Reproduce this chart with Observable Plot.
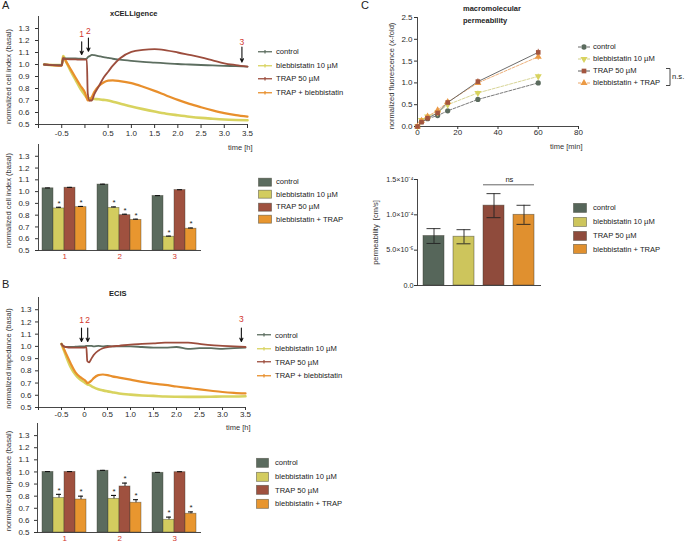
<!DOCTYPE html>
<html><head><meta charset="utf-8">
<script src="https://cdn.jsdelivr.net/npm/d3@7"></script>
<script src="https://cdn.jsdelivr.net/npm/@observablehq/plot@0.6"></script>
<style>
body{margin:0;background:#fff;}
#fig{position:relative;width:685px;height:544px;overflow:hidden;background:#fff;font-family:"Liberation Sans",Arial,Helvetica,sans-serif;}
#fig svg{overflow:visible;}
</style></head><body><div id="fig"></div>
<script>
// ---------------- data ----------------
const seriesLine = ["control", "blebbistatin 10 µM", "TRAP 50 µM", "TRAP + blebbistatin"];
const seriesBar = ["control", "blebbistatin 10 µM", "TRAP 50 µM", "blebbistatin + TRAP"];
const lineColors = ["#5d6e60", "#d8d35f", "#9c4d3d", "#e88f2c"];
const barColors = ["#5b6b5e", "#d3cc5f", "#9f513f", "#e8962f"];
const groups = ["1", "2", "3"];
const redLabel = "#d2362e";

// A top (xCELLigence)
const timeA = [-0.88,-0.7,-0.5,-0.47,-0.4,-0.3,-0.2,-0.1,0,0.04,0.06,0.1,0.15,0.2,0.3,0.4,0.5,0.6,0.75,1.0,1.25,1.5,1.75,2.0,2.25,2.5,2.75,3.0,3.25,3.5];
const aControl = [1.0,0.995,0.995,1.05,1.05,1.05,1.05,1.048,1.047,1.05,1.06,1.07,1.08,1.078,1.07,1.062,1.055,1.048,1.04,1.03,1.022,1.016,1.01,1.004,1.0,0.996,0.992,0.989,0.986,0.983];
const aBlebb = [1.0,0.995,0.995,1.07,1.02,0.94,0.87,0.80,0.745,0.725,0.72,0.718,0.715,0.713,0.71,0.705,0.70,0.69,0.675,0.65,0.628,0.608,0.59,0.577,0.565,0.555,0.548,0.542,0.538,0.535];
const aTrap = [1.0,0.995,0.99,1.05,1.045,1.043,1.042,1.04,1.04,1.04,0.76,0.70,0.70,0.75,0.82,0.89,0.94,0.99,1.05,1.105,1.122,1.128,1.118,1.10,1.08,1.06,1.035,1.01,0.995,0.982];
const aTrapBlebb = [1.0,0.995,0.99,1.06,1.02,0.955,0.89,0.825,0.765,0.72,0.70,0.70,0.73,0.77,0.82,0.85,0.865,0.868,0.862,0.845,0.815,0.78,0.742,0.705,0.672,0.644,0.618,0.595,0.578,0.566];

// B top (ECIS)
const timeB = [-0.5,-0.45,-0.4,-0.3,-0.2,-0.1,0,0.04,0.06,0.1,0.15,0.2,0.3,0.4,0.5,0.6,0.75,1.0,1.25,1.5,1.75,2.0,2.25,2.5,2.75,3.0,3.25,3.5];
const bControl = [1.02,1.0,0.995,0.995,0.997,1.0,1.0,1.005,1.005,1.005,1.005,1.0,1.005,1.0,1.005,1.0,1.0,1.0,0.995,0.99,0.99,0.995,0.98,0.985,0.985,0.98,0.985,0.99];
const bBlebb = [1.02,0.97,0.92,0.83,0.77,0.73,0.705,0.695,0.69,0.685,0.675,0.665,0.65,0.64,0.632,0.625,0.615,0.605,0.598,0.595,0.59,0.588,0.587,0.587,0.588,0.59,0.59,0.592];
const bTrap = [1.02,1.0,0.995,0.99,0.99,0.99,0.99,0.995,0.88,0.87,0.90,0.93,0.965,0.985,0.995,1.0,1.005,1.015,1.02,1.025,1.03,1.03,1.03,1.02,1.01,1.005,1.0,0.995];
const bTrapBlebb = [1.02,0.98,0.94,0.86,0.79,0.75,0.725,0.71,0.70,0.705,0.72,0.74,0.765,0.77,0.765,0.755,0.745,0.728,0.71,0.695,0.685,0.672,0.66,0.648,0.637,0.627,0.62,0.615];

const lineTicksY = [0.5,0.6,0.7,0.8,0.9,1.0,1.1,1.2,1.3];
const lineTicksX = [-1,-0.5,0,0.5,1,1.5,2,2.5,3,3.5];
const xTickLabelsA = ["","-0.5","","0.5","1.0","1.5","2.0","2.5","3.0","3.5"];
const xTickLabelsB = ["","-0.5","0","0.5","1.0","1.5","2.0","2.5","3.0","3.5"];

// arrows (time points 1, 2, 3)
const arrowLabels = ["1", "2", "3"];
const arrowXA = [-0.07, 0.075, 3.38];
const arrowFromA = [1.19, 1.22, 1.145];
const arrowToA = [1.083, 1.11, 1.02];
const arrowLabelYA = [1.25, 1.28, 1.185];
const arrowXB = [-0.065, 0.07, 3.41];
const arrowFromB = [1.15, 1.15, 1.15];
const arrowToB = [1.04, 1.04, 1.04];
const arrowLabelYB = [1.21, 1.21, 1.22];

// A bottom bars (cell index at time points)
const aBarControl = [1.028, 1.06, 0.963];
const aBarBlebb = [0.857, 0.862, 0.617];
const aBarTrap = [1.033, 0.80, 1.013];
const aBarBoth = [0.868, 0.76, 0.685];
const aErrControl = [0.003, 0.003, 0.003];
const aErrBlebb = [0.01, 0.008, 0.005];
const aErrTrap = [0.003, 0.008, 0.003];
const aErrBoth = [0.006, 0.006, 0.006];

// B bottom bars (impedance at time points)
const bBarControl = [1.0, 1.01, 0.993];
const bBarBlebb = [0.785, 0.778, 0.605];
const bBarTrap = [1.0, 0.88, 0.998];
const bBarBoth = [0.772, 0.746, 0.655];
const bErrControl = [0.003, 0.003, 0.003];
const bErrBlebb = [0.03, 0.028, 0.022];
const bErrTrap = [0.003, 0.028, 0.004];
const bErrBoth = [0.028, 0.025, 0.015];

// significance stars (1 = *)
const starControl = [0, 0, 0];
const starBlebb = [1, 1, 1];
const starTrap = [0, 1, 0];
const starBoth = [1, 1, 1];

// C top: macromolecular permeability
const timeC = [0, 2, 5, 10, 15, 30, 60];
const cControl = [0, 0.11, 0.18, 0.25, 0.36, 0.62, 1.0];
const cBlebb = [0, 0.15, 0.23, 0.32, 0.50, 0.77, 1.15];
const cTrap = [0, 0.10, 0.19, 0.31, 0.55, 1.03, 1.70];
const cBoth = [0, 0.13, 0.23, 0.37, 0.56, 1.00, 1.60];
const cErrControl = [0, 0.01, 0.01, 0.01, 0.015, 0.02, 0.02];
const cErrBlebb = [0, 0.02, 0.02, 0.03, 0.03, 0.04, 0.05];
const cErrTrap = [0, 0.02, 0.03, 0.04, 0.05, 0.06, 0.07];
const cErrBoth = [0, 0.02, 0.03, 0.04, 0.04, 0.06, 0.08];
const cTicksY = [0, 0.5, 1.0, 1.5, 2.0, 2.5];
const cTicksX = [0, 20, 40, 60, 80];

// C bottom: permeability
const permValues = [7.0e-5, 6.9e-5, 1.13e-4, 1.0e-4];
const permErrors = [1.05e-5, 1.0e-5, 1.7e-5, 1.35e-5];
const permTicks = [0, 5e-5, 1e-4, 1.5e-4];
const permTickLabels = ["0.0", "5.0×10⁻⁵", "1.0×10⁻⁴", "1.5×10⁻⁴"];
const nsLevel = 1.425e-4;

// ---------------- helpers ----------------
const FONT = '"Liberation Sans", Arial, Helvetica, sans-serif';
const fig = document.getElementById("fig");
const baseStyle = {fontFamily: FONT, fontSize: "8px", color: "#2a2a2a", background: "transparent", overflow: "visible"};

function place(el, left, top) {
  el.style.position = "absolute";
  el.style.left = left + "px";
  el.style.top = top + "px";
  fig.appendChild(el);
}
function htmlText(text, left, top, css) {
  const d = document.createElement("div");
  d.textContent = text;
  d.style.cssText = "white-space:nowrap;" + css;
  place(d, left, top);
  return d;
}
function legend(left, top, rowH, labels, swW, gap, drawSwatch) {
  const div = document.createElement("div");
  div.style.cssText = `font:7.6px ${FONT};color:#222;`;
  labels.forEach((lab, i) => {
    const row = document.createElement("div");
    row.style.cssText = `display:flex;align-items:center;height:${rowH}px;white-space:nowrap;`;
    const svg = d3.create("svg").attr("width", swW).attr("height", rowH).style("margin-right", gap + "px").style("flex", "none");
    drawSwatch(svg, i, rowH);
    row.appendChild(svg.node());
    const sp = document.createElement("span");
    sp.textContent = lab;
    row.appendChild(sp);
    div.appendChild(row);
  });
  place(div, left, top);
  return div;
}
const lineSwatch = (colors) => (svg, i, h) => {
  svg.append("line").attr("x1", 0).attr("x2", 14).attr("y1", h / 2).attr("y2", h / 2).attr("stroke", colors[i]).attr("stroke-width", 1.3);
  svg.append("line").attr("x1", 7).attr("x2", 7).attr("y1", h / 2 - 1.8).attr("y2", h / 2 + 1.8).attr("stroke", colors[i]).attr("stroke-width", 1.2);
};
const rectSwatch = (colors, w, hh) => (svg, i, h) => {
  svg.append("rect").attr("x", 0.5).attr("y", (h - hh) / 2).attr("width", w - 1).attr("height", hh)
    .attr("fill", colors[i]).attr("stroke", "#3a3a30").attr("stroke-opacity", 0.55).attr("stroke-width", 0.8);
};
function rowsOf(times, seriesArrays, names) {
  return names.flatMap((s, si) => times.map((t, i) => ({series: s, t, v: seriesArrays[si][i]})));
}
const yLabelMark = (text, dx, dy) => Plot.text([text], {frameAnchor: "left", dx, dy, rotate: -90, textAnchor: "middle", lineAnchor: "middle", fontSize: 7.5, fill: "#333"});

// ---------------- line chart (A top, B top) ----------------
function lineChart({left, top, width, height, mL, mR, mT, mB, rows, xLabels, arrowX, arrowFrom, arrowTo, arrowLabelY, ylabel, tickPad, xTickSize, xTickPad, timeDy, ylabelDy}) {
  const arrows = arrowLabels.map((l, i) => ({label: l, x: arrowX[i], y1: arrowFrom[i], y2: arrowTo[i], ly: arrowLabelY[i]}));
  const order = [1, 3, 0, 2];
  const widths = [1.8, 2.6, 1.8, 2.2];
  const svg = Plot.plot({
    width, height, marginLeft: mL, marginRight: mR, marginTop: mT, marginBottom: mB,
    style: baseStyle,
    x: {domain: [-1, 3.5]},
    y: {domain: [0.5, 1.4]},
    marks: [
      Plot.ruleX([-1], {stroke: "#333", strokeWidth: 0.9}),
      Plot.ruleY([0.5], {stroke: "#333", strokeWidth: 0.9}),
      Plot.axisY({ticks: lineTicksY, tickSize: 3, tickPadding: tickPad, tickFormat: d => d.toFixed(1), label: null, stroke: "#333"}),
      Plot.axisX({ticks: lineTicksX, tickSize: xTickSize, tickPadding: xTickPad, tickFormat: d => xLabels[lineTicksX.indexOf(d)], label: null, stroke: "#333"}),
      ...order.map(si => Plot.line(rows.filter(r => r.series === seriesLine[si]), {x: "t", y: "v", stroke: lineColors[si], strokeWidth: widths[si], curve: "monotone-x"})),
      Plot.arrow(arrows, {x1: "x", y1: "y1", x2: "x", y2: "y2", stroke: "#111", strokeWidth: 1.1, headLength: 5, headAngle: 50}),
      Plot.text(arrows, {x: "x", y: "ly", text: "label", fill: redLabel, fontSize: 8.5}),
      yLabelMark(ylabel, -(mL - 8), ylabelDy),
      Plot.text(["time [h]"], {frameAnchor: "bottom-right", dx: 5, dy: timeDy, textAnchor: "end", lineAnchor: "middle", fontSize: 7.5, fill: "#333"})
    ]
  });
  place(svg, left, top);
}

// ---------------- bar chart (A bottom, B bottom) ----------------
function barChart({left, top, width, height, mL, mR, mT, mB, vals, errs, ylabel, tickPad, ylabelDy, groupDy}) {
  const stars = [starControl, starBlebb, starTrap, starBoth];
  const keys = [];
  groups.forEach((g, gi) => {
    if (gi > 0) keys.push("gap" + gi);
    seriesBar.forEach(s => keys.push(g + "|" + s));
  });
  const rows = groups.flatMap((g, gi) => seriesBar.map((s, si) => ({key: g + "|" + s, group: g, series: s, v: vals[si][gi], e: errs[si][gi], star: stars[si][gi]})));
  const svg = Plot.plot({
    width, height, marginLeft: mL, marginRight: mR, marginTop: mT, marginBottom: mB,
    style: baseStyle,
    x: {domain: keys, padding: 0, axis: null},
    y: {domain: [0.5, 1.4]},
    color: {domain: seriesBar, range: barColors},
    marks: [
      Plot.barY(rows, {x: "key", y1: () => 0.5, y2: "v", fill: "series", stroke: "#3a3a30", strokeOpacity: 0.55, strokeWidth: 0.7}),
      Plot.ruleX(rows, {x: "key", y1: "v", y2: d => d.v + d.e, stroke: "#111", strokeWidth: 0.9}),
      Plot.tickY(rows, {x: "key", y: d => d.v + d.e, stroke: "#111", strokeWidth: 1.1, insetLeft: 3, insetRight: 3}),
      Plot.text(rows.filter(d => d.star), {x: "key", y: d => d.v + d.e + 0.035, text: () => "*", fontSize: 8, fill: "#222"}),
      Plot.axisY({ticks: lineTicksY, tickSize: 3, tickPadding: tickPad, tickFormat: d => d.toFixed(1), label: null, stroke: "#333"}),
      Plot.frame({anchor: "left", stroke: "#333", strokeWidth: 0.9}),
      Plot.frame({anchor: "bottom", stroke: "#333", strokeWidth: 0.9}),
      Plot.text(groups, {x: g => g + "|" + seriesBar[1], frameAnchor: "bottom", dx: 5.8, dy: groupDy, text: d => d, fill: redLabel, fontSize: 8}),
      yLabelMark(ylabel, -(mL - 8), ylabelDy)
    ]
  });
  place(svg, left, top);
}

// ---------------- panel letters & titles ----------------
htmlText("A", 2, -1, "font:11px " + FONT + ";color:#222;");
htmlText("B", 2, 278, "font:11px " + FONT + ";color:#222;");
htmlText("C", 361, -1, "font:11px " + FONT + ";color:#222;");
htmlText("xCELLigence", 110, 9, "font:bold 7.5px " + FONT + ";color:#222;");
htmlText("ECIS", 109, 289, "font:bold 7.5px " + FONT + ";color:#222;");
htmlText("macromolecular", 463, 4, "font:bold 7.5px " + FONT + ";color:#222;");
htmlText("permeability", 463, 16, "font:bold 7.5px " + FONT + ";color:#222;");

// ---------------- A ----------------
lineChart({left: 0, top: 0, width: 260, height: 155, mL: 38, mR: 13, mT: 16, mB: 31,
  rows: rowsOf(timeA, [aControl, aBlebb, aTrap, aTrapBlebb], seriesLine), xLabels: xTickLabelsA,
  arrowX: arrowXA, arrowFrom: arrowFromA, arrowTo: arrowToA, arrowLabelY: arrowLabelYA,
  ylabel: "normalized cell index (basal)", tickPad: 6, xTickSize: 4, xTickPad: 2, timeDy: 23, ylabelDy: 6});
legend(258, 45, 13.5, seriesLine, 14, 4, lineSwatch(lineColors));

barChart({left: 0, top: 140, width: 215, height: 130, mL: 38, mR: 15, mT: 4, mB: 20,
  vals: [aBarControl, aBarBlebb, aBarTrap, aBarBoth], errs: [aErrControl, aErrBlebb, aErrTrap, aErrBoth],
  ylabel: "normalized cell index (basal)", tickPad: 6, ylabelDy: 3, groupDy: 8});
legend(258, 175.8, 12.4, seriesBar, 14, 4, rectSwatch(barColors, 14, 8));

// ---------------- B ----------------
lineChart({left: 0, top: 285, width: 260, height: 150, mL: 38, mR: 15, mT: 12, mB: 28,
  rows: rowsOf(timeB, [bControl, bBlebb, bTrap, bTrapBlebb], seriesLine), xLabels: xTickLabelsB,
  arrowX: arrowXB, arrowFrom: arrowFromB, arrowTo: arrowToB, arrowLabelY: arrowLabelYB,
  ylabel: "normalized impedance (basal)", tickPad: 4, xTickSize: 3, xTickPad: 1, timeDy: 20, ylabelDy: 6});
legend(257, 328.3, 13.5, seriesLine, 13, 5, lineSwatch(lineColors));

barChart({left: 0, top: 415, width: 215, height: 129, mL: 37, mR: 15, mT: 8, mB: 12,
  vals: [bBarControl, bBarBlebb, bBarTrap, bBarBoth], errs: [bErrControl, bErrBlebb, bErrTrap, bErrBoth],
  ylabel: "normalized impedance (basal)", tickPad: 5, ylabelDy: 3, groupDy: 8});
legend(256, 456, 13.7, seriesBar, 13, 6, rectSwatch(barColors, 13, 9));

// ---------------- C top ----------------
{
  const cVals = [cControl, cBlebb, cTrap, cBoth];
  const cErrs = [cErrControl, cErrBlebb, cErrTrap, cErrBoth];
  const markerFill = ["#5b6b5e", "#d8d35f", "#a3553f", "#eb9a45"];
  const lineStroke = ["#6b6b6b", "#d2cf8a", "#5c5c5c", "#eaa66a"];
  const dashes = ["3,1.5", "3,1.5", null, "3,1.5"];
  const symbols = ["circle", "triangle", "square", "triangle"];
  const rotates = [0, 180, 0, 0];
  const rows = seriesBar.flatMap((s, si) => timeC.map((t, i) => ({series: s, si, t, v: cVals[si][i], e: cErrs[si][i]})));
  const svg = Plot.plot({
    width: 230, height: 155, marginLeft: 57, marginRight: 12, marginTop: 17, marginBottom: 29,
    style: baseStyle,
    x: {domain: [0, 80]},
    y: {domain: [0, 2.5]},
    marks: [
      Plot.ruleX([0], {stroke: "#333", strokeWidth: 0.9}),
      Plot.ruleY([0], {stroke: "#333", strokeWidth: 0.9}),
      Plot.axisY({ticks: cTicksY, tickSize: 3, tickPadding: 2, tickFormat: d => d.toFixed(1), label: null, stroke: "#333"}),
      Plot.axisX({ticks: cTicksX, tickSize: 3, tickPadding: 0, label: null, stroke: "#333"}),
      ...[0, 1, 3, 2].map(si => Plot.line(rows.filter(r => r.si === si), {x: "t", y: "v", stroke: lineStroke[si], strokeWidth: 0.9, strokeDasharray: dashes[si]})),
      ...[0, 1, 3, 2].map(si => Plot.ruleX(rows.filter(r => r.si === si && r.e > 0), {x: "t", y1: d => d.v - d.e, y2: d => d.v + d.e, stroke: markerFill[si], strokeWidth: 0.9})),
      ...[0, 1, 3, 2].map(si => Plot.dot(rows.filter(r => r.si === si), {x: "t", y: "v", symbol: symbols[si], rotate: rotates[si], r: 2.6, fill: markerFill[si], stroke: "none"})),
      yLabelMark("normalized fluorescence (x-fold)", -26, 4),
      Plot.text(["time [min]"], {frameAnchor: "bottom-right", dx: 4, dy: 20, textAnchor: "end", lineAnchor: "middle", fontSize: 7.5, fill: "#333"})
    ]
  });
  place(svg, 360, 0);
  legend(578, 40.7, 12, seriesBar, 12, 3, (s, i, h) => {
    s.append("line").attr("x1", 0).attr("x2", 12).attr("y1", h / 2).attr("y2", h / 2)
      .attr("stroke", lineStroke[i]).attr("stroke-width", 1).attr("stroke-dasharray", dashes[i]);
    const types = [d3.symbolCircle, d3.symbolTriangle, d3.symbolSquare, d3.symbolTriangle];
    s.append("path").attr("d", d3.symbol(types[i], 22)()).attr("fill", markerFill[i])
      .attr("transform", `translate(6,${h / 2}) rotate(${rotates[i]})`);
  });
  // n.s. bracket between TRAP and blebbistatin + TRAP
  const br = d3.create("svg").attr("width", 30).attr("height", 24);
  br.append("path").attr("d", "M0,1.5 H4 V18.5 H0").attr("fill", "none").attr("stroke", "#333").attr("stroke-width", 0.9);
  br.append("text").attr("x", 6).attr("y", 12).attr("font-family", FONT).attr("font-size", 7.6).attr("fill", "#222").text("n.s.");
  place(br.node(), 666, 67);
}

// ---------------- C bottom ----------------
{
  const permColors = ["#56665a", "#cdc55c", "#8f4b3c", "#e0902f"];
  const rows = seriesBar.map((s, i) => ({series: s, v: permValues[i], e: permErrors[i]}));
  const svg = Plot.plot({
    width: 190, height: 125, marginLeft: 57, marginRight: 10, marginTop: 14, marginBottom: 5,
    style: baseStyle,
    x: {domain: seriesBar, paddingInner: 0.3, paddingOuter: 0.15, axis: null},
    y: {domain: [0, 1.5e-4]},
    color: {domain: seriesBar, range: permColors},
    marks: [
      Plot.barY(rows, {x: "series", y: "v", fill: "series", stroke: "#3a3a30", strokeOpacity: 0.55, strokeWidth: 0.8}),
      Plot.ruleX(rows, {x: "series", y1: d => d.v - d.e, y2: d => d.v + d.e, stroke: "#222", strokeWidth: 0.9}),
      Plot.tickY(rows, {x: "series", y: d => d.v + d.e, stroke: "#222", strokeWidth: 0.9, insetLeft: 3.5, insetRight: 3.5}),
      Plot.tickY(rows, {x: "series", y: d => d.v - d.e, stroke: "#222", strokeWidth: 0.9, insetLeft: 3.5, insetRight: 3.5}),
      Plot.frame({anchor: "left", stroke: "#333", strokeWidth: 0.9}),
      Plot.frame({anchor: "bottom", stroke: "#333", strokeWidth: 0.9}),
      Plot.axisY({ticks: permTicks, tickSize: 3, tickPadding: 1, tickFormat: d => permTickLabels[permTicks.indexOf(d)], label: null, stroke: "#333", fontSize: 7.2}),
      Plot.ruleY([{y: nsLevel, a: seriesBar[2], b: seriesBar[3]}], {y: "y", x1: "a", x2: "b", stroke: "#555", strokeWidth: 0.9}),
      Plot.text([{y: nsLevel, a: seriesBar[2]}], {x: "a", y: "y", dx: 15.4, dy: -5, text: () => "ns", fontSize: 7.6, fill: "#222"}),
      yLabelMark("permeability  [cm/s]", -42, 0)
    ]
  });
  place(svg, 360, 165);
  legend(573, 201, 13.8, seriesBar, 14, 6, rectSwatch(permColors, 14, 9));
}
</script></body></html>
